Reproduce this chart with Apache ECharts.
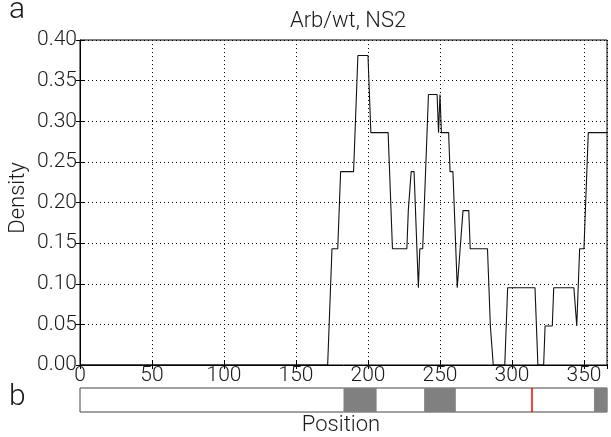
<!DOCTYPE html>
<html>
<head>
<meta charset="utf-8">
<script src="https://cdn.jsdelivr.net/npm/echarts@6/dist/echarts.min.js"></script>
<style>
  html, body { margin: 0; padding: 0; background: #fff; }
  #chart { width: 611px; height: 437px; }
</style>
</head>
<body>
<div id="chart"></div>
<script>
// density trace (position, density)
const positions = [0, 172, 175, 179, 181, 190, 193, 200, 202, 214,
  217, 227, 228, 229, 230, 232, 235, 236, 238, 242,
  248, 249, 250, 251, 256, 257, 259, 262, 264, 265,
  266, 270, 271, 283, 285, 286, 287, 295, 297, 316,
  318, 322, 323, 328, 329, 343, 345, 347, 350, 353, 366];
const densities = [0, 0, 0.143, 0.143, 0.238, 0.238, 0.381, 0.381, 0.286, 0.286,
  0.143, 0.143, 0.190, 0.190, 0.238, 0.238, 0.095, 0.143, 0.143, 0.333,
  0.333, 0.286, 0.333, 0.286, 0.286, 0.238, 0.238, 0.095, 0.143, 0.143,
  0.190, 0.190, 0.143, 0.143, 0.048, 0.048, 0, 0, 0.095, 0.095,
  0, 0, 0.048, 0.048, 0.095, 0.095, 0.048, 0.143, 0.143, 0.286, 0.286];

// panel b: gray regions and red marker
const regionStarts = [183, 239, 357];
const regionEnds = [206, 261, 366];
const markerPos = [314];

const seqLength = 366;
const xTicks = [0, 50, 100, 150, 200, 250, 300, 350];
const yTicks = [0, 0.05, 0.1, 0.15, 0.2, 0.25, 0.3, 0.35, 0.4];

const FONT = 'Roboto';
const TXT = '#1a1a1a';

const chart = echarts.init(document.getElementById('chart'), null, {renderer: 'canvas'});

const gridLine = {show: true, lineStyle: {color: '#000', type: [1, 3], width: 1}};

const option = {
    animation: false,
    backgroundColor: '#fff',
    title: {
        text: 'Arb/wt, NS2',
        left: 343, top: 5, textAlign: 'center',
        textStyle: {fontFamily: FONT, fontWeight: 300, fontSize: 22, color: TXT}
    },
    graphic: [
        {type: 'text', left: 9, top: -5, style: {text: 'a', fontFamily: FONT, fontWeight: 300, fontSize: 30, fill: TXT}},
        {type: 'text', left: 9, top: 382, style: {text: 'b', fontFamily: FONT, fontWeight: 300, fontSize: 30, fill: TXT}},
        {type: 'text', x: 341, y: 425, style: {text: 'Position', fontFamily: FONT, fontWeight: 300, fontSize: 22, fill: TXT,
            textAlign: 'center', textVerticalAlign: 'middle'}},
        {type: 'text', x: 18, y: 198, rotation: Math.PI / 2,
         style: {text: 'Density', fontFamily: FONT, fontWeight: 300, fontSize: 22, fill: TXT, textAlign: 'center', textVerticalAlign: 'middle'}}
    ],
    grid: [
        {left: 80, right: 4, top: 40, height: 325, show: true, borderColor: '#000', borderWidth: 1},
        {left: 80, right: 4, top: 388, height: 24, show: true, borderColor: '#444', borderWidth: 1}
    ],
    xAxis: [
        {
            type: 'value', gridIndex: 0, min: 0, max: seqLength, interval: xTicks[1] - xTicks[0],
            axisLine: {show: true, lineStyle: {color: '#000'}},
            axisTick: {show: true, inside: true, length: 4, lineStyle: {color: '#000'}},
            axisLabel: {margin: 0, fontFamily: FONT, fontWeight: 300, fontSize: 21, color: TXT},
            splitLine: gridLine
        },
        {
            type: 'value', gridIndex: 0, position: 'top', min: 0, max: seqLength, interval: 50,
            axisLine: {show: false},
            axisTick: {show: true, inside: true, length: 4, lineStyle: {color: '#000'}},
            axisLabel: {show: false}, splitLine: {show: false}
        },
        {type: 'value', gridIndex: 1, min: 0, max: seqLength, show: false}
    ],
    yAxis: [
        {
            type: 'value', gridIndex: 0, min: yTicks[0], max: yTicks[yTicks.length - 1], interval: 0.05,
            axisLine: {show: true, lineStyle: {color: '#000'}},
            axisTick: {show: true, inside: true, length: 4, lineStyle: {color: '#000'}},
            axisLabel: {margin: 3, fontFamily: FONT, fontWeight: 300, fontSize: 21, color: TXT,
                formatter: v => v.toFixed(2)},
            splitLine: gridLine
        },
        {
            type: 'value', gridIndex: 0, position: 'right', min: 0, max: 0.4, interval: 0.05,
            axisLine: {show: false},
            axisTick: {show: true, inside: true, length: 4, lineStyle: {color: '#000'}},
            axisLabel: {show: false}, splitLine: {show: false}
        },
        {type: 'value', gridIndex: 1, min: 0, max: 1, show: false}
    ],
    series: [
        {
            type: 'line', xAxisIndex: 0, yAxisIndex: 0,
            data: positions.map((p, i) => [p, densities[i]]),
            showSymbol: false, symbol: 'none',
            lineStyle: {color: '#111', width: 1.1},
            z: 5
        },
        {
            type: 'line', xAxisIndex: 2, yAxisIndex: 2, data: [],
            markArea: {
                silent: true,
                itemStyle: {color: '#808080'},
                data: regionStarts.map((s, i) => [{xAxis: s}, {xAxis: regionEnds[i]}])
            },
            markLine: {
                silent: true, symbol: 'none', label: {show: false},
                lineStyle: {color: '#ff0000', type: 'solid', width: 1.5},
                data: markerPos.map(p => ({xAxis: p}))
            }
        }
    ]
};

chart.setOption(option);
</script>
</body>
</html>
